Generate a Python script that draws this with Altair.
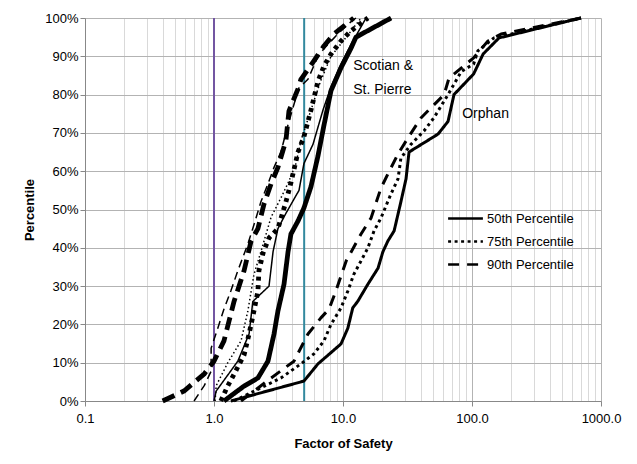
import altair as alt
import pandas as pd

# ---- data (Factor of Safety, cumulative percentile %) ----
pct_labels = ["50th Percentile", "75th Percentile", "90th Percentile"]

# Group A (thick lines)
a50_x = [1.195, 1.71, 2.19, 2.62, 2.92, 3.13, 3.49, 3.75, 3.95, 4.48, 4.98, 5.65, 6.4, 7.12, 8.07, 9.65, 11.5, 12.6, 23.6]
a50_y = [0, 3.9, 6, 10.4, 17.5, 23.5, 30.5, 39, 43.6, 47, 50.4, 56, 64, 72, 81, 87, 92, 95, 100]
a75_x = [1.13, 1.28, 1.43, 1.71, 1.87, 2.04, 2.19, 2.23, 2.4, 2.67, 3.13, 3.61, 3.95, 4.48, 4.98, 5.65, 6.4, 7.12, 8.07, 9.65, 11.5, 15.6]
a75_y = [0, 4, 7, 12, 17.5, 23.5, 28.7, 34, 38.6, 42.6, 45, 52, 57, 65, 69, 76, 83.5, 87.5, 90.6, 94, 96.6, 100]
a90_x = [0.40, 0.585, 0.837, 1.0, 1.195, 1.43, 1.71, 1.94, 2.19, 2.44, 2.77, 3.13, 3.61, 3.81, 4.48, 4.72, 5.95, 7.12, 8.5, 12.1]
a90_y = [0, 2.6, 7, 10.4, 15.7, 26, 34, 41.8, 45, 51.4, 56.7, 61, 68, 75.7, 81.5, 84, 88.8, 92.7, 95.8, 100]

# Group B (thin lines)
b50_x = [1.0, 1.04, 1.53, 1.87, 2.0, 2.67, 2.87, 3.13, 3.61, 4.56, 4.98, 5.85, 7.0, 8.07, 9.65, 11.5, 15.1]
b50_y = [0, 2.6, 10.4, 17.5, 26, 30, 39, 45, 49, 55, 62, 67, 76, 82, 88, 93, 100]
b75_x = [1.02, 1.04, 1.28, 1.62, 1.83, 2.04, 2.31, 2.77, 3.3, 3.81, 4.32, 4.72, 5.65, 6.7, 8.07, 10.6, 13.8]
b75_y = [0, 4, 10, 15.7, 23.5, 33, 39, 48, 53, 57.4, 62, 68, 76, 83.5, 90, 95, 100]
b90_x = [0.7, 0.84, 0.95, 0.95, 1.07, 1.195, 1.35, 1.53, 1.83, 2.04, 2.31, 2.62, 2.92, 3.3, 3.74, 4.17, 4.55, 5.35, 6.4, 7.12, 9.1, 11.5, 12.6]
b90_y = [0, 4, 7.8, 13.8, 19, 24, 28.7, 34, 41, 46, 52, 56.7, 61, 65, 72, 77.5, 81.7, 84, 90, 92, 95.8, 99, 100]

# Orphan
o50_x = [1.35, 4.98, 6.4, 9.65, 10.9, 11.9, 13.0, 15.6, 18.7, 20.4, 22.3, 24.9, 28.1, 30.8, 32.5, 54.6, 65.2, 72.5, 103, 122, 162, 700]
o50_y = [0, 5.2, 9.7, 14.9, 19, 24.3, 26, 30.5, 34.7, 39, 41.8, 44.4, 52, 58, 65, 69.7, 73, 80, 85.4, 90.6, 94.8, 100]
o75_x = [1.43, 3.3, 4.72, 5.95, 7.12, 8.07, 9.65, 10.9, 12.1, 13.8, 15.6, 17.4, 19.7, 23.5, 26.7, 28.1, 33.6, 42.4, 50.8, 65.2, 82.4, 103, 111, 148, 700]
o75_y = [0, 6, 9.7, 12.3, 15.7, 20, 24.3, 28.7, 33, 36.6, 40, 44.4, 47.8, 54, 58, 63.4, 67, 70.5, 74, 80, 86, 88, 91.4, 94.8, 100]
o90_x = [1.62, 2.77, 4.17, 5.35, 6.74, 7.8, 8.8, 10.6, 13.8, 16.5, 19.7, 22.3, 26.7, 31.9, 40.2, 60.8, 66.3, 103, 133, 168, 700]
o90_y = [0, 6, 10.4, 17.5, 21.7, 24, 28.7, 36.6, 43.6, 47.8, 55.6, 59.3, 64.5, 68.7, 73.9, 80, 84.3, 89.6, 94, 95.8, 100]

x_ticks = [0.1, 1, 10, 100, 1000]
minor_ticks = [m * d for d in [0.1, 1, 10, 100] for m in range(1, 10)] + [1000]
y_ticks = [i / 10 for i in range(11)]
ref_lines = [1.0, 5.0]
ref_colors = ["#7356A2", "#33899E"]

notes = ["Scotian &", "St. Pierre", "Orphan"]
note_x = [12.0, 12.0, 84.0]
note_y = [87.5, 81.3, 75.0]

rows = []
series = {
    ("A", 0): (a50_x, a50_y), ("A", 1): (a75_x, a75_y), ("A", 2): (a90_x, a90_y),
    ("B", 0): (b50_x, b50_y), ("B", 1): (b75_x, b75_y), ("B", 2): (b90_x, b90_y),
    ("O", 0): (o50_x, o50_y), ("O", 1): (o75_x, o75_y), ("O", 2): (o90_x, o90_y),
}
for (g, k), (xs, ys) in series.items():
    for i, (xv, yv) in enumerate(zip(xs, ys)):
        rows.append({"group": g, "Percentile": pct_labels[k], "series": g + str(k),
                     "fos": xv, "pct": yv / 100.0, "order": i})
df = pd.DataFrame(rows)

is_major = "abs(log(datum.value)/LN10 - round(log(datum.value)/LN10)) < 0.001"

x_scale = alt.Scale(type="log", domain=[0.1, 1000], nice=False)
y_scale = alt.Scale(domain=[0, 1], nice=False)

x_axis = alt.Axis(
    values=minor_ticks, title="Factor of Safety",
    labelExpr=is_major + " ? format(datum.value, '.1f') : ''",
    labelOverlap=False, labelFlush=False,
    gridColor={"condition": {"test": is_major, "value": "#b3b3b3"}, "value": "#d9d9d9"},
    tickColor={"condition": {"test": is_major, "value": "#888888"}, "value": "transparent"},
    tickSize=5, labelPadding=6, titlePadding=12,
)
y_axis = alt.Axis(values=y_ticks, title="Percentile", labelOverlap=False,
                  labelExpr="round(datum.value * 100) + '%'",
                  gridColor="#b3b3b3", tickColor="#888888", tickSize=5, titlePadding=8)

def group_layer(g, width, dashes, show_legend):
    legend = alt.Legend(orient="none", legendX=367, legendY=187, title=None,
                        symbolType="M-1.45,0H1.45", symbolStrokeWidth=2.5, symbolSize=576,
                        symbolStrokeColor="black", symbolFillColor="transparent",
                        labelFontSize=13, labelColor="#000",
                        labelFont="Liberation Sans", rowPadding=2, labelOffset=8,
                        symbolOffset=0) if show_legend else None
    return alt.Chart(df).transform_filter(alt.datum.group == g).mark_line(
        color="black", strokeWidth=width, strokeCap="butt", strokeJoin="round"
    ).encode(
        x=alt.X("fos:Q", scale=x_scale, axis=x_axis),
        y=alt.Y("pct:Q", scale=y_scale, axis=y_axis),
        detail="series:N",
        order="order:Q",
        strokeDash=alt.StrokeDash("Percentile:N",
                                  scale=alt.Scale(domain=pct_labels, range=dashes),
                                  legend=legend),
    )

layer_a = group_layer("A", 4.8, [[1, 0], [4, 4.5], [13, 7]], False)
layer_b = group_layer("B", 1.5, [[1, 0], [1.5, 2.5], [8, 5]], False)
layer_o = group_layer("O", 3.0, [[1, 0], [3, 3.5], [11, 8]], True)

refs = alt.Chart(pd.DataFrame({"fos": ref_lines, "c": ref_colors})).mark_rule(strokeWidth=2).encode(
    x=alt.X("fos:Q", scale=x_scale, axis=x_axis),
    color=alt.Color("c:N", scale=None),
)

text = alt.Chart(pd.DataFrame({"t": notes, "fos": note_x, "pct": [v / 100 for v in note_y]})).mark_text(
    align="left", baseline="middle", fontSize=14, font="Liberation Sans", color="#000"
).encode(
    x=alt.X("fos:Q", scale=x_scale, axis=x_axis),
    y=alt.Y("pct:Q", scale=y_scale, axis=y_axis),
    text="t:N",
)

chart = alt.layer(refs, layer_b, layer_a, layer_o, text).resolve_scale(
    strokeDash="independent"
).properties(
    width=516, height=383, padding={"left": 15, "top": 4, "right": 5, "bottom": 5},
    background="white",
).configure_axis(
    labelFont="Liberation Sans", labelFontSize=13, labelColor="#000",
    titleFont="Liberation Sans", titleFontSize=13, titleFontWeight="bold", titleColor="#000",
    domainColor="#888888",
).configure_axisY(labelOverlap=False).configure_view(stroke=None)

chart.save("out.html", embed_options={"renderer": "svg", "actions": False})
